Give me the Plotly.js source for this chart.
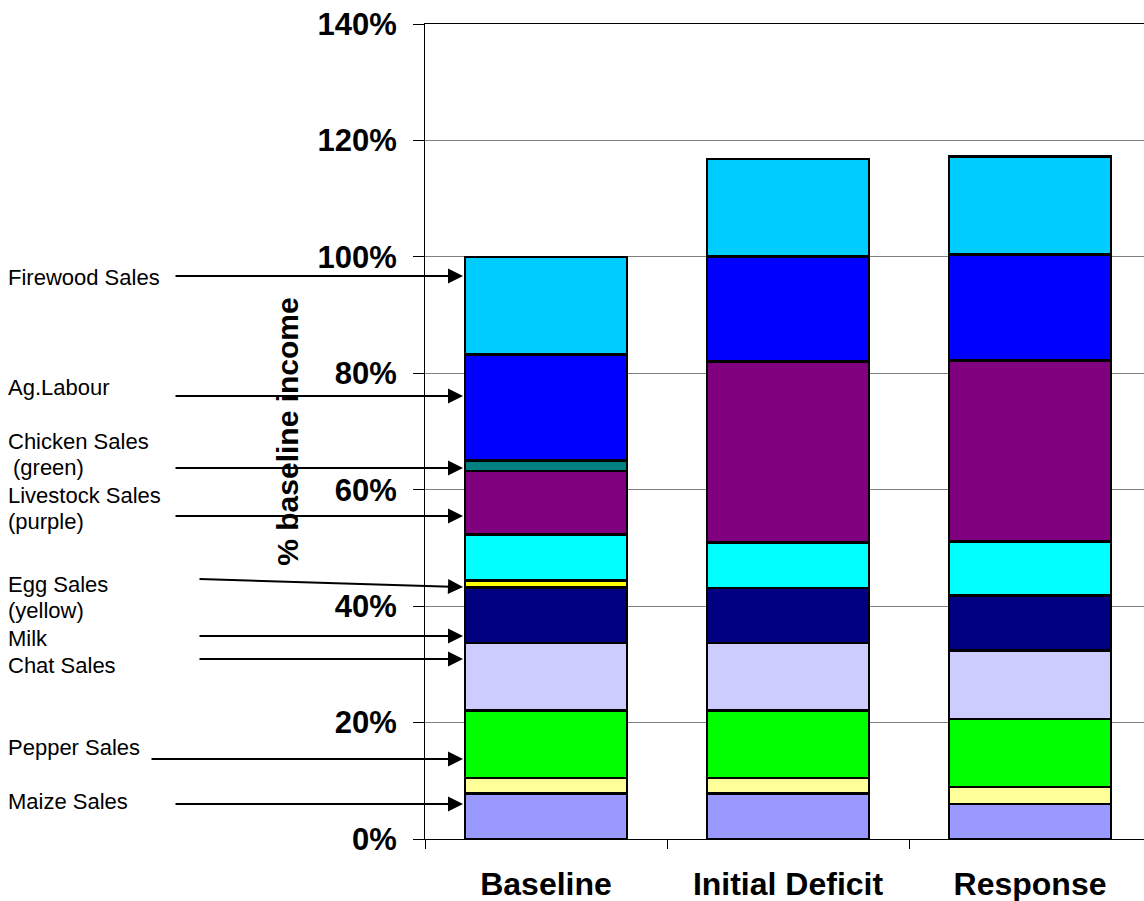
<!DOCTYPE html>
<html>
<head>
<meta charset="utf-8">
<script src="https://cdn.plot.ly/plotly-3.0.1.min.js"></script>
<style>
  html, body { margin: 0; padding: 0; background: #ffffff; }
  #chart { width: 1144px; height: 901px; }
</style>
</head>
<body>
<div id="chart"></div>
<script>
// Income sources as % of baseline income, per scenario
const categories = ['Baseline', 'Initial Deficit', 'Response'];

const maizeSales     = [7.8, 7.8, 6.0];
const otherCropSales = [2.7, 2.7, 2.9];
const pepperSales    = [11.6, 11.6, 11.7];
const chatSales      = [11.6, 11.6, 11.8];
const milk           = [9.5, 9.4, 9.4];
const eggSales       = [1.2, 0, 0];
const otherSales     = [7.9, 7.8, 9.3];
const livestockSales = [10.9, 31.1, 31.1];
const chickenSales   = [1.8, 0, 0];
const agLabour       = [18.2, 18.1, 18.2];
const firewoodSales  = [16.8, 16.7, 16.8];

// Stacking order, bottom to top
const series = [
  { name: 'Maize Sales',      values: maizeSales,     color: '#9999FF' },
  { name: 'Other Crop Sales', values: otherCropSales, color: '#FFFF99' },
  { name: 'Pepper Sales',     values: pepperSales,    color: '#00FF00' },
  { name: 'Chat Sales',       values: chatSales,      color: '#CCCCFF' },
  { name: 'Milk',             values: milk,           color: '#000080' },
  { name: 'Egg Sales',        values: eggSales,       color: '#FFFF00' },
  { name: 'Other Sales',      values: otherSales,     color: '#00FFFF' },
  { name: 'Livestock Sales',  values: livestockSales, color: '#800080' },
  { name: 'Chicken Sales',    values: chickenSales,   color: '#008080' },
  { name: 'Ag.Labour',        values: agLabour,       color: '#0000FF' },
  { name: 'Firewood Sales',   values: firewoodSales,  color: '#00CCFF' }
];

const traces = series.map(s => ({
  type: 'bar',
  name: s.name,
  x: categories,
  y: s.values,
  width: 0.67,
  marker: { color: s.color, line: { color: '#000000', width: 2.5 } },
  hoverinfo: 'skip'
}));

// Page geometry of the plotting area (pixels)
const W = 1144, H = 901;
const M = { l: 425, r: 0, t: 24, b: 62 };
const plotW = W - M.l - M.r, plotH = H - M.t - M.b;
const px = v => (v - M.l) / plotW;
const py = v => (H - M.b - v) / plotH;

const labelFont = { family: 'Liberation Sans, Arial, sans-serif', size: 22, color: '#000000' };
const boldFont = (size) => ({ family: 'Liberation Sans, Arial, sans-serif', size: size, color: '#000000', weight: 'bold' });

// Side labels: [text, left x, middle y]
const sideLabels = [
  ['Firewood Sales', 6, 277],
  ['Ag.Labour', 6, 387],
  ['Chicken Sales', 6, 442],
  ['(green)', 11, 467],
  ['Livestock Sales', 6, 495],
  ['(purple)', 6, 521],
  ['Egg Sales', 6, 584],
  ['(yellow)', 6, 610],
  ['Milk', 6, 638],
  ['Chat Sales', 6, 665],
  ['Pepper Sales', 6, 747],
  ['Maize Sales', 6, 801]
];

// Pointer arrows: [tail x, tail y, tip x, tip y]
const pointers = [
  [174, 276, 463, 276],
  [174, 396, 463, 396],
  [174, 468, 463, 468],
  [174, 516, 463, 516],
  [198, 579, 463, 587],
  [198, 636, 463, 636],
  [198, 659, 463, 659],
  [150, 759, 463, 759],
  [174, 804, 463, 804]
];

const annotations = [];
sideLabels.forEach(([t, x, y]) => {
  annotations.push({
    text: t, xref: 'paper', yref: 'paper', x: px(x), y: py(y),
    xanchor: 'left', yanchor: 'middle', showarrow: false, font: labelFont
  });
});
pointers.forEach(([x0, y0, x1, y1]) => {
  annotations.push({
    text: '', xref: 'paper', yref: 'paper', x: px(x1), y: py(y1),
    axref: 'pixel', ayref: 'pixel', ax: x0 - x1, ay: y0 - y1,
    showarrow: true, arrowhead: 2, arrowsize: 1.5, arrowwidth: 2,
    arrowcolor: '#000000', standoff: 0, startstandoff: 0
  });
});

const layout = {
  width: W, height: H,
  margin: M,
  paper_bgcolor: '#ffffff',
  plot_bgcolor: '#ffffff',
  barmode: 'stack',
  showlegend: false,
  xaxis: {
    type: 'category',
    range: [-0.5, -0.5 + plotW / 242],
    showline: true, linecolor: '#000000', linewidth: 1, mirror: true,
    ticks: 'outside', tickson: 'boundaries', ticklen: 9, tickcolor: '#000000', tickwidth: 1,
    showgrid: false,
    tickfont: boldFont(32),
    ticklabelstandoff: 17
  },
  yaxis: {
    range: [0, 140],
    dtick: 20,
    ticksuffix: '%',
    showline: true, linecolor: '#000000', linewidth: 1,
    ticks: 'outside', ticklen: 11, tickcolor: '#000000', tickwidth: 1,
    showgrid: true, gridcolor: '#808080', gridwidth: 1,
    zeroline: false,
    tickfont: boldFont(31),
    ticklabelstandoff: 10,
    title: { text: '% baseline income', font: boldFont(30), standoff: 10 }
  },
  annotations: annotations
};

Plotly.newPlot('chart', traces, layout, { displayModeBar: false, staticPlot: true });
</script>
</body>
</html>
